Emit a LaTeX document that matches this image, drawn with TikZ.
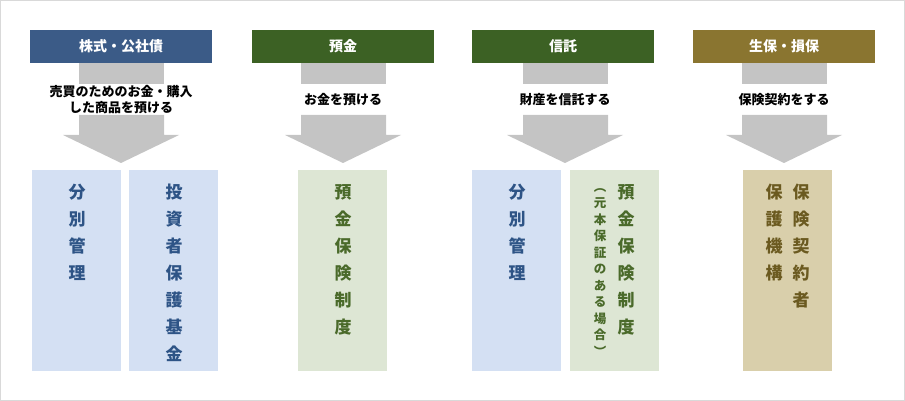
\documentclass[tikz,border=0pt]{standalone}
\usepackage{fontspec}
\setmainfont{Noto Sans CJK JP}
\usetikzlibrary{calc}
\definecolor{hdblue}{HTML}{3B5B87}
\definecolor{hdgreen}{HTML}{3C6124}
\definecolor{hdolive}{HTML}{8A7530}
\definecolor{bxblue}{HTML}{D4E0F3}
\definecolor{bxgreen}{HTML}{DDE6D4}
\definecolor{bxtan}{HTML}{D9CFAB}
\definecolor{txblue}{HTML}{2E5486}
\definecolor{txgreen}{HTML}{4A6A2A}
\definecolor{txbrown}{HTML}{6B5A20}
\definecolor{arrowgray}{HTML}{C4C4C4}
\tikzset{
  header/.style={minimum width=182pt, minimum height=33pt, inner sep=0pt, text=white, font=\bfseries\fontsize{14}{16}\selectfont},
  result/.style={minimum width=89pt, minimum height=201pt, inner sep=0pt, anchor=north west},
  vlabel/.style={anchor=north, align=center, inner sep=0pt, font=\bfseries\fontsize{17}{27}\selectfont},
  vsmall/.style={anchor=north, align=center, inner sep=0pt, font=\bfseries\fontsize{12.5}{16.5}\selectfont},
  action/.style={align=center, inner sep=0pt, font=\bfseries\fontsize{13}{16}\selectfont}
}
\newcommand\flowarrow[2]{% centre x, label node name
  \fill[arrowgray] (#1-42,63) rectangle (#1+43,84);
  \fill[arrowgray] (#1-42,115) -- (#1+43,115) -- (#1+43,135) -- (#1+58,135)
    -- (#1,163) -- (#1-58,135) -- (#1-42,135) -- cycle;
}
\begin{document}
\begin{tikzpicture}[x=1pt, y=-1pt]
  \useasboundingbox (0,0) rectangle (905,401);
  \draw[black!15] (0.5,0.5) rectangle (904.5,400.5);

  % headers
  \node[header, fill=hdblue]  (secu)  at (121,46.5) {株式・公社債};
  \node[header, fill=hdgreen] (depo)  at (343,46.5) {預金};
  \node[header, fill=hdgreen] (trust) at (563,46.5) {信託};
  \node[header, fill=hdolive] (insu)  at (784,46.5) {生保・損保};

  % arrows
  \flowarrow{121}{}
  \flowarrow{343}{}
  \flowarrow{565}{}
  \flowarrow{784}{}
  \node[action] (secu_act)  at (121,100) {売買のためのお金・購入\\した商品を預ける};
  \node[action] (depo_act)  at (343,100) {お金を預ける};
  \node[action] (trust_act) at (565,100) {財産を信託する};
  \node[action] (insu_act)  at (784,100) {保険契約をする};

  % result boxes
  \node[result, fill=bxblue]  (secu_sep)  at (32,170)  {};
  \node[result, fill=bxblue]  (secu_fund) at (129,170) {};
  \node[result, fill=bxgreen] (depo_ins)  at (298,170) {};
  \node[result, fill=bxblue]  (trust_sep) at (472,170) {};
  \node[result, fill=bxgreen] (trust_ins) at (570,170) {};
  \node[result, fill=bxtan]   (insu_org)  at (743,170) {};

  \node[vlabel, text=txblue]  at (77,184)  {分\\別\\管\\理};
  \node[vlabel, text=txblue]  at (174,184) {投\\資\\者\\保\\護\\基\\金};
  \node[vlabel, text=txgreen] at (343,184) {預\\金\\保\\険\\制\\度};
  \node[vlabel, text=txblue]  at (517,184) {分\\別\\管\\理};
  \node[vlabel, text=txgreen] at (626,184) {預\\金\\保\\険\\制\\度};
  \node[vsmall, text=txgreen] at (600,188) {︵\\元\\本\\保\\証\\の\\あ\\る\\場\\合\\︶};
  \node[vlabel, text=txbrown] at (801,184) {保\\険\\契\\約\\者};
  \node[vlabel, text=txbrown] at (774,184) {保\\護\\機\\構};
\end{tikzpicture}
\end{document}
